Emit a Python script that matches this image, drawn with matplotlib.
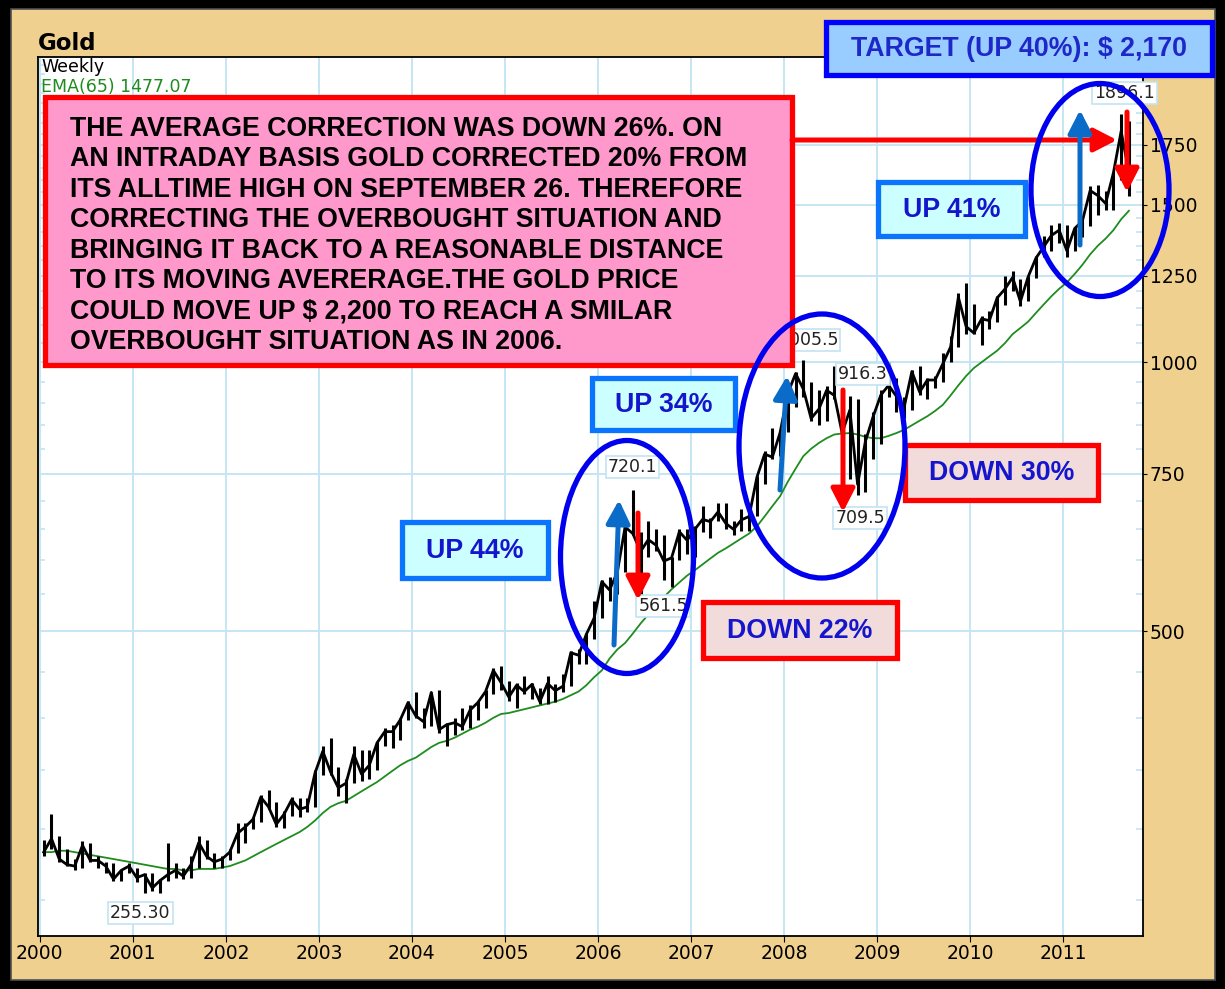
import matplotlib
matplotlib.use('Agg')
import matplotlib.pyplot as plt
from matplotlib.patches import Rectangle, Ellipse, FancyArrowPatch
from matplotlib.ticker import FixedLocator, NullFormatter, FixedFormatter

# ---------------- data (monthly, Jan 2000 - Sep 2011) ----------------
years = list(range(2000, 2012))
close = [283, 293, 278, 274, 273, 288, 277, 277, 273, 264, 270, 273,
         265, 267, 258, 263, 267, 270, 266, 274, 290, 280, 276, 278,
         283, 297, 302, 308, 326, 318, 304, 312, 324, 316, 318, 347,
         367, 348, 334, 338, 364, 346, 354, 375, 386, 386, 398, 416,
         402, 396, 427, 388, 393, 395, 391, 408, 416, 428, 452, 438,
         422, 435, 428, 436, 417, 437, 429, 434, 473, 470, 496, 517,
         568, 556, 582, 654, 643, 614, 633, 624, 599, 604, 646, 632,
         650, 667, 663, 680, 660, 650, 666, 672, 743, 789, 783, 834,
         923, 971, 933, 865, 886, 930, 918, 833, 884, 730, 815, 869,
         919, 942, 916, 890, 976, 926, 955, 955, 996, 1040, 1182, 1096,
         1078, 1118, 1113, 1180, 1207, 1244, 1169, 1246, 1307, 1346, 1386, 1405,
         1332, 1411, 1439, 1556, 1536, 1505, 1628, 1813, 1630]
high = [292, 312, 295, 285, 278, 291, 290, 280, 276, 275, 270, 275,
        272, 268, 268, 264, 290, 275, 272, 280, 295, 292, 282, 280,
        285, 305, 305, 310, 328, 332, 322, 315, 326, 325, 325, 350,
        372, 380, 352, 342, 372, 368, 368, 376, 390, 393, 400, 418,
        427, 410, 428, 430, 395, 400, 410, 413, 418, 430, 455, 457,
        440, 438, 446, 438, 432, 445, 436, 448, 475, 478, 498, 540,
        570, 575, 590, 655, 720, 645, 665, 650, 640, 605, 650, 650,
        655, 690, 670, 695, 695, 665, 685, 680, 745, 795, 845, 840,
        930, 975, 1005, 950, 930, 940, 990, 915, 916, 910, 830, 880,
        930, 1000, 960, 915, 980, 990, 960, 965, 1025, 1070, 1195, 1227,
        1163, 1125, 1140, 1185, 1250, 1265, 1240, 1250, 1315, 1385, 1425, 1430,
        1425, 1415, 1447, 1575, 1577, 1555, 1632, 1896, 1860]
low = [280, 285, 276, 273, 270, 272, 276, 272, 268, 263, 263, 268,
       262, 255, 256, 255, 263, 265, 264, 265, 272, 278, 272, 272,
       277, 282, 290, 300, 306, 316, 302, 301, 311, 310, 314, 318,
       345, 345, 327, 321, 338, 340, 342, 350, 372, 370, 378, 398,
       400, 390, 392, 385, 372, 383, 388, 390, 398, 410, 425, 430,
       418, 410, 425, 420, 414, 415, 417, 428, 434, 460, 460, 490,
       517, 540, 550, 582, 640, 545, 605, 615, 570, 561, 600, 610,
       605, 645, 636, 665, 650, 640, 648, 648, 672, 730, 780, 785,
       835, 890, 915, 860, 850, 860, 910, 775, 740, 710, 715, 780,
       810, 915, 880, 865, 885, 920, 910, 935, 950, 1000, 1040, 1075,
       1075, 1045, 1090, 1110, 1160, 1200, 1155, 1170, 1242, 1310, 1330, 1360,
       1310, 1330, 1380, 1420, 1462, 1480, 1480, 1600, 1535]
ema = [283, 283, 284, 284, 283, 282, 281, 280, 279, 278, 277, 276,
       275, 274, 273, 272, 271, 271, 270, 270, 271, 271, 271, 272,
       273, 275, 277, 280, 283, 286, 289, 292, 295, 298, 302, 307,
       313, 318, 321, 323, 327, 331, 335, 339, 344, 349, 354, 358,
       361, 366, 371, 375, 377, 380, 384, 388, 391, 395, 400, 404,
       405, 407, 409, 411, 413, 415, 417, 420, 424, 428, 435, 444,
       452, 466, 477, 485, 497, 510, 522, 535, 546, 557, 567, 577,
       585, 594, 603, 612, 619, 627, 635, 643, 655, 672, 690, 708,
       735, 760, 785, 800, 812, 822, 830, 832, 833, 830, 825, 822,
       822, 827, 833, 840, 850, 860, 870, 882, 896, 918, 942, 965,
       985, 1000, 1015, 1030, 1050, 1075, 1092, 1110, 1135, 1160, 1185, 1208,
       1228, 1255, 1285, 1320, 1350, 1375, 1405, 1445, 1477]
month_x = [2000 + (i + 0.5) / 12 for i in range(len(close))]

y_major = [500, 750, 1000, 1250, 1500, 1750]
y_minor = [v for v in range(250, 2200, 50) if v not in y_major]

point_labels = ['255.30', '720.1', '561.5', '1005.5', '916.3', '709.5', '1896.1']
point_pos = [(2001.08, 242), (2006.37, 763), (2006.70, 533), (2008.26, 1058),
             (2008.85, 970), (2008.82, 669), (2011.66, 2000)]

note_lines = ["THE AVERAGE CORRECTION WAS DOWN 26%. ON",
              "AN INTRADAY BASIS GOLD CORRECTED 20% FROM",
              "ITS ALLTIME HIGH ON SEPTEMBER 26. THEREFORE",
              "CORRECTING THE OVERBOUGHT SITUATION AND",
              "BRINGING IT BACK TO A REASONABLE DISTANCE",
              "TO ITS MOVING AVERERAGE.THE GOLD PRICE",
              "COULD MOVE UP $ 2,200 TO REACH A SMILAR",
              "OVERBOUGHT SITUATION AS IN 2006."]

# ---------------- figure ----------------
W, H = 1225, 989
fig = plt.figure(figsize=(W / 100, H / 100), dpi=100, facecolor='black')

def fx(px):
    return px / W

def fy(py):
    return 1 - py / H

BOLD = 'Liberation Sans'

# beige frame
fig.patches.append(Rectangle((fx(11), fy(980)), fx(1215) - fx(11), fy(9) - fy(980),
                             transform=fig.transFigure, facecolor='#EFD08F',
                             edgecolor='#505050', lw=1.2, zorder=-5))

ax = fig.add_axes([fx(38), fy(936), fx(1143) - fx(38), fy(57) - fy(936)])
ax.set_facecolor('white')
ax.set_yscale('log')
ax.set_xlim(1999.98, 2011.86)
ax.set_ylim(228, 2195)

grid_c = '#C2E4F3'
ax.xaxis.set_major_locator(FixedLocator(years))
ax.set_xticklabels([str(y) for y in years])
ax.yaxis.set_major_locator(FixedLocator(y_major))
ax.yaxis.set_major_formatter(FixedFormatter([str(v) for v in y_major]))
ax.yaxis.set_minor_locator(FixedLocator(y_minor))
ax.yaxis.set_minor_formatter(NullFormatter())
ax.xaxis.set_minor_locator(FixedLocator([]))
ax.yaxis.tick_right()
ax.tick_params(axis='y', which='major', direction='out', length=3, pad=2,
               labelsize=13.5, colors='black', right=True, left=False)
ax.tick_params(axis='y', which='minor', direction='in', length=5,
               color=grid_c, width=1.2, left=True, right=True)
ax.tick_params(axis='x', which='major', direction='out', length=4, pad=2,
               labelsize=13.5, colors='black')
ax.grid(True, which='major', color=grid_c, lw=1.3, zorder=0)
ax.set_axisbelow(True)
for s in ax.spines.values():
    s.set_color('black')
    s.set_linewidth(1.3)

# price bars and EMA
ax.vlines(month_x, low, high, color='black', lw=2.2, zorder=3)
ax.plot(month_x, close, color='black', lw=2.0, zorder=3)
ax.plot(month_x, ema, color='#1E8C1E', lw=1.3, zorder=2)

for lab, (px_, py_) in zip(point_labels, point_pos):
    ax.text(px_, py_, lab, fontsize=12.5, ha='center', va='center', color='#222222',
            zorder=4, bbox=dict(boxstyle='square,pad=0.12', fc='white', ec=grid_c, lw=1.2))

# header texts
fig.text(fx(38), fy(43), 'Gold', fontsize=16.5, fontweight='bold', ha='left', va='center')
fig.text(fx(41), fy(67), 'Weekly', fontsize=12.5, ha='left', va='center')
fig.text(fx(41), fy(87), 'EMA(65) 1477.07', fontsize=12.5, ha='left', va='center',
         color='#1E8C1E')

# ---------------- annotations ----------------
def box(x0, y0, x1, y1, fc, ec, lw=3.8):
    fig.patches.append(Rectangle((fx(x0), fy(y1)), fx(x1) - fx(x0), fy(y0) - fy(y1),
                                 transform=fig.transFigure, fc=fc, ec=ec, lw=lw,
                                 zorder=6, joinstyle='miter'))

def label_box(x0, y0, x1, y1, text, fc, ec, tc='#1515CC', size=19.3):
    box(x0, y0, x1, y1, fc, ec)
    fig.text(fx((x0 + x1) / 2), fy((y0 + y1) / 2 + 1), text, fontsize=size,
             fontweight='bold', family=BOLD, color=tc, ha='center', va='center', zorder=7)

def arrow(x0, y0, x1, y1, color):
    fig.patches.append(FancyArrowPatch((fx(x0), fy(y0)), (fx(x1), fy(y1)),
                                       transform=fig.transFigure,
                                       arrowstyle='-|>,head_length=0.7,head_width=0.36',
                                       mutation_scale=20, lw=3.6, color=color,
                                       shrinkA=0, shrinkB=0, zorder=8))

def ellipse(cx, cy, w, h):
    fig.patches.append(Ellipse((fx(cx), fy(cy)), w / W, h / H, transform=fig.transFigure,
                               fill=False, ec='#0000EE', lw=3.8, zorder=9))

# pink note
box(45, 97, 792, 365, '#FF99CC', '#FF0000')
for k, line in enumerate(note_lines):
    fig.text(fx(70), fy(129 + k * 30.4), line, fontsize=19.3, fontweight='bold',
             family=BOLD, color='black', ha='left', va='center', zorder=7)

label_box(826, 22, 1212, 75, 'TARGET (UP 40%): $ 2,170', '#99CCFF', '#0000FF',
          tc='#1E28C8')
label_box(878, 182, 1025, 236, 'UP 41%', '#CCFFFF', '#0A74FF')
label_box(592, 378, 735, 430, 'UP 34%', '#CCFFFF', '#0A74FF')
label_box(402, 522, 548, 578, 'UP 44%', '#CCFFFF', '#0A74FF')
label_box(905, 445, 1098, 500, 'DOWN 30%', '#F2DCDB', '#FF0000')
label_box(703, 602, 897, 658, 'DOWN 22%', '#F2DCDB', '#FF0000')

arrow(792, 140, 1117, 140, '#FF0000')
arrow(614, 645, 619, 500, '#0A6CC8')
arrow(780, 490, 787, 376, '#0A6CC8')
arrow(1080, 245, 1080, 110, '#0A6CC8')
arrow(638, 513, 638, 600, '#FF0000')
arrow(843, 390, 843, 512, '#FF0000')
arrow(1127, 112, 1127, 192, '#FF0000')

ellipse(627, 557, 133, 233)
ellipse(822, 446, 166, 264)
ellipse(1100, 190, 138, 213)

fig.savefig('out.png', dpi=100, facecolor=fig.get_facecolor())
